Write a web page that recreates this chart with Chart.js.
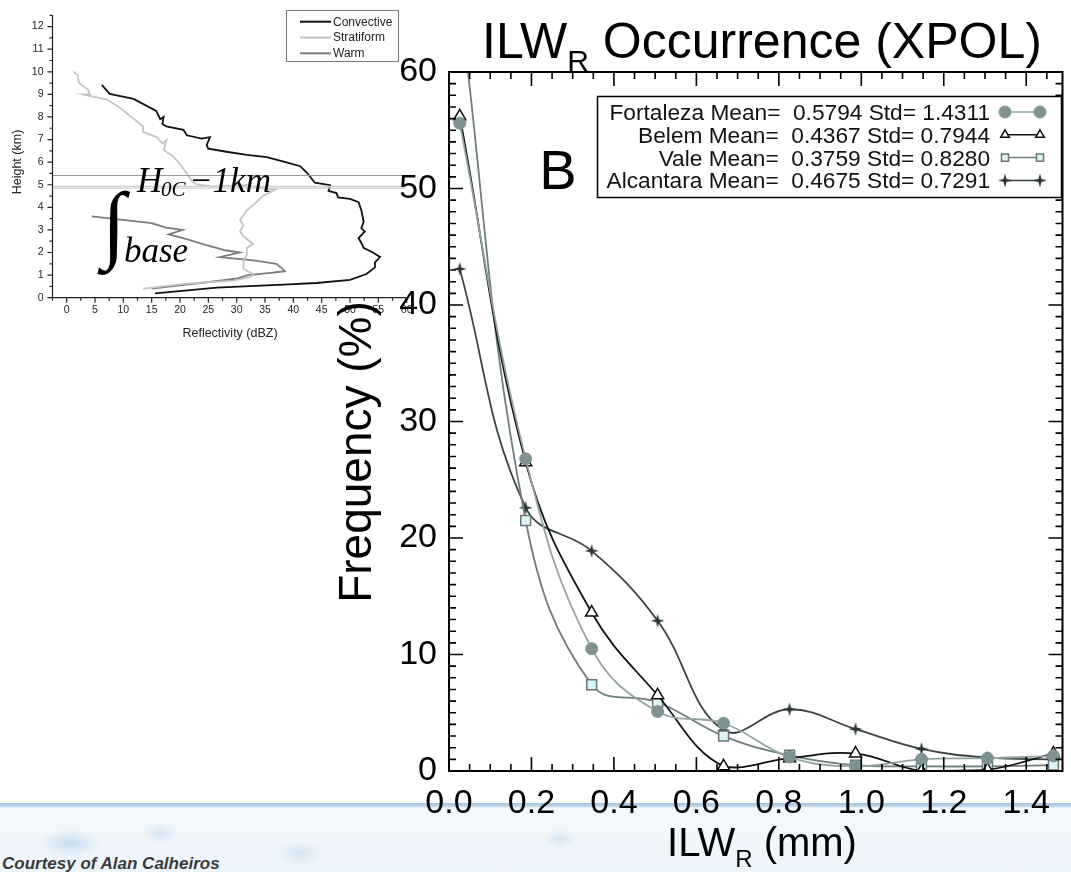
<!DOCTYPE html>
<html>
<head>
<meta charset="utf-8">
<script src="https://cdn.jsdelivr.net/npm/chart.js@4.4.1/dist/chart.umd.min.js"></script>
<style>
body { margin: 0; background: #fff; overflow: hidden; }
#page { position: relative; width: 1071px; height: 872px; background: #fff; }
#band { position: absolute; left: 0; top: 803px; width: 1071px; height: 69px;
  background:
    radial-gradient(ellipse 30px 14px at 70px 40px, rgba(150,190,225,0.45), rgba(150,190,225,0) 100%),
    radial-gradient(ellipse 18px 10px at 160px 30px, rgba(150,190,225,0.35), rgba(150,190,225,0) 100%),
    radial-gradient(ellipse 22px 12px at 300px 50px, rgba(150,190,225,0.3), rgba(150,190,225,0) 100%),
    radial-gradient(ellipse 16px 10px at 560px 36px, rgba(150,190,225,0.3), rgba(150,190,225,0) 100%),
    linear-gradient(to bottom, #9fc2e2 0px, #b9d4ec 3px, #f3f8fc 5px, #edf4fa 100%); }
#credit { position: absolute; left: 2px; top: 854px; font: italic bold 17px 'Liberation Sans', Arial, sans-serif; color: #3a3a3a; }
</style>
</head>
<body>
<div id="page">
  <div id="band"></div>
  <div id="credit">Courtesy of  Alan Calheiros</div>
  <canvas id="insetChart" width="420" height="345" style="position:absolute;left:0;top:0"></canvas>
  <canvas id="mainChart" width="1071" height="872" style="position:absolute;left:0;top:0"></canvas>
</div>
<script>
// ---- main chart data: frequency (%) per ILW_R bin ----
var ilwBins = [0.026, 0.186, 0.346, 0.506, 0.666, 0.826, 0.986, 1.146, 1.306, 1.466];
var fortalezaFreq = [55.6, 26.8, 10.5, 5.1, 4.1, 1.2, 0.4, 1.0, 1.1, 1.3];
var belemFreq = [56.2, 26.5, 13.6, 6.5, 0.4, 1.1, 1.5, 0.0, 0.1, 1.5];
var valeFreq = [66.0, 21.5, 7.4, 5.9, 3.0, 1.35, 0.5, 0.4, 0.4, 0.5];
var alcantaraFreq = [43.1, 22.6, 18.9, 12.9, 3.5, 5.3, 3.6, 1.9, 1.15, 1.0];
var siteNames = ['Fortaleza', 'Belem', 'Vale', 'Alcantara'];
var siteMeans = ['0.5794', '0.4367', '0.3759', '0.4675'];
var siteStds = ['1.4311', '0.7944', '0.8280', '0.7291'];

// ---- inset data: reflectivity profiles ----
var convDbz = [6.2, 7.6, 11.8, 15.8, 16.5, 17.1, 16.9, 17.6, 20.6, 21.2, 23.8, 25.3, 24.7, 25.0, 28.2, 31.8, 35.3, 38.8, 41.2, 42.4, 43.8, 46.5, 46.2, 47.6, 47.9, 50.0, 51.5, 52.0, 52.4, 52.0, 52.6, 51.5, 52.0, 52.4, 54.1, 55.3, 54.4, 54.4, 52.9, 50.0, 44.1, 38.2, 26.5, 15.6];
var convHeight = [9.42, 9.02, 8.8, 8.27, 7.9, 8.0, 7.69, 7.58, 7.43, 7.19, 7.04, 7.11, 6.75, 6.6, 6.46, 6.32, 6.22, 5.99, 5.82, 5.53, 5.09, 4.98, 4.73, 4.63, 4.44, 4.37, 4.23, 3.87, 3.36, 3.07, 2.93, 2.64, 2.42, 2.21, 1.99, 1.8, 1.56, 1.34, 1.05, 0.79, 0.65, 0.58, 0.45, 0.19];
var stratDbz = [1.2, 1.9, 2.2, 3.8, 4.1, 2.9, 7.1, 9.4, 11.5, 13.5, 13.5, 15.9, 16.9, 17.6, 17.1, 18.8, 20.3, 21.5, 22.1, 22.9, 25.9, 31.8, 35.3, 36.8, 34.7, 33.5, 31.8, 31.2, 30.6, 31.2, 30.6, 31.2, 32.9, 31.8, 31.8, 31.2, 31.2, 32.9, 32.4, 29.4, 21.2, 13.5];
var stratHeight = [10.0, 9.88, 9.5, 9.2, 9.0, 9.0, 8.77, 8.41, 7.98, 7.58, 7.33, 7.11, 6.83, 6.97, 6.54, 6.25, 5.82, 5.38, 5.17, 5.02, 4.92, 4.98, 4.81, 4.78, 4.52, 4.23, 3.87, 3.65, 3.43, 3.22, 2.93, 2.71, 2.38, 2.21, 1.92, 1.63, 1.27, 1.05, 0.91, 0.76, 0.62, 0.40];
var warmDbz = [4.4, 15.0, 17.5, 20.5, 18.0, 21.0, 25.0, 28.0, 30.5, 27.0, 33.0, 37.0, 38.0, 38.5, 36.0, 32.0, 30.0, 27.0, 20.0, 15.0];
var warmHeight = [3.6, 3.3, 3.1, 3.0, 2.8, 2.6, 2.3, 2.1, 2.0, 1.8, 1.65, 1.5, 1.3, 1.17, 1.1, 1.0, 0.85, 0.75, 0.55, 0.4];
var levelHeights = [5.41, 4.93, 4.85];
var levelColors = ['#9a9a9a', '#cfcfcf', '#cfcfcf'];

var FONT = "'Liberation Sans', Arial, sans-serif";

function toPoints(xs, ys) {
  return xs.map(function (x, i) { return {x: x, y: ys[i]}; });
}

// 4 point star marker for Alcantara
function makeStar(r, fill) {
  var c = document.createElement('canvas');
  c.width = c.height = 2 * r + 2;
  var g = c.getContext('2d');
  var m = r + 1;
  g.beginPath();
  for (var k = 0; k < 8; k++) {
    var a = k * Math.PI / 4 - Math.PI / 2;
    var rr = k % 2 === 0 ? r : r * 0.3;
    g.lineTo(m + rr * Math.cos(a), m + rr * Math.sin(a));
  }
  g.closePath();
  g.fillStyle = fill;
  g.fill();
  return c;
}
var starMark = makeStar(7, '#2b3434');

// ================= inset (reflectivity profiles) =================
var insetDecor = {
  id: 'insetDecor',
  afterDraw: function (chart) {
    var ctx = chart.ctx, a = chart.chartArea, x = chart.scales.x, y = chart.scales.y;
    ctx.save();
    ctx.strokeStyle = '#222';
    ctx.lineWidth = 1.2;
    ctx.beginPath();
    ctx.moveTo(a.left, a.top); ctx.lineTo(a.left, a.bottom); ctx.lineTo(a.right, a.bottom);
    for (var h = 0; h <= 12.5; h += 0.5) {
      var py = y.getPixelForValue(h);
      var len = (h % 1 === 0) ? 5 : 3;
      ctx.moveTo(a.left, py); ctx.lineTo(a.left - len, py);
    }
    for (var d = -2.5; d <= 60; d += 2.5) {
      var px = x.getPixelForValue(d);
      var l2 = (d % 5 === 0) ? 5 : 3;
      ctx.moveTo(px, a.bottom); ctx.lineTo(px, a.bottom + l2);
    }
    ctx.stroke();

    // legend
    ctx.strokeStyle = '#777';
    ctx.lineWidth = 1;
    ctx.strokeRect(286.5, 10.5, 112, 51);
    var names = ['Convective', 'Stratiform', 'Warm'];
    var cols = ['#111', '#c4c4c4', '#7c7c7c'];
    ctx.font = '12px ' + FONT;
    ctx.textBaseline = 'middle';
    for (var i = 0; i < 3; i++) {
      var ry = 21.7 + i * 15.8;
      ctx.strokeStyle = cols[i];
      ctx.lineWidth = 2;
      ctx.beginPath(); ctx.moveTo(300, ry); ctx.lineTo(331, ry); ctx.stroke();
      ctx.fillStyle = '#222';
      ctx.fillText(names[i], 333, ry + 0.5);
    }

    // axis titles
    ctx.fillStyle = '#222';
    ctx.textAlign = 'center';
    ctx.textBaseline = 'alphabetic';
    ctx.font = '12.5px ' + FONT;
    ctx.fillText('Reflectivity (dBZ)', 230, 337);
    ctx.save();
    ctx.translate(21, 162);
    ctx.rotate(-Math.PI / 2);
    ctx.fillText('Height (km)', 0, 0);
    ctx.restore();

    // integral annotation
    ctx.fillStyle = '#000';
    ctx.textAlign = 'left';
    ctx.font = 'bold 86px "Liberation Serif", "DejaVu Serif", serif';
    ctx.fillText('\u222B', 102, 252);
    ctx.font = 'italic 35px "Liberation Serif", serif';
    ctx.fillText('H', 137, 192);
    ctx.font = 'italic 21px "Liberation Serif", serif';
    ctx.fillText('0C', 161, 196);
    ctx.font = 'italic 35px "Liberation Serif", serif';
    ctx.fillText('\u22121km', 189, 192);
    ctx.fillText('base', 124, 262);
    ctx.restore();
  }
};

var insetSets = [
  {data: toPoints(convDbz, convHeight), borderColor: '#111', borderWidth: 1.8},
  {data: toPoints(stratDbz, stratHeight), borderColor: '#c4c4c4', borderWidth: 1.8},
  {data: toPoints(warmDbz, warmHeight), borderColor: '#7c7c7c', borderWidth: 1.8}
];
levelHeights.forEach(function (h, i) {
  insetSets.unshift({data: [{x: -2.5, y: h}, {x: 60, y: h}], borderColor: levelColors[i], borderWidth: 1.2});
});

new Chart(document.getElementById('insetChart').getContext('2d'), {
  type: 'scatter',
  data: {datasets: insetSets.map(function (d) {
    d.showLine = true; d.pointRadius = 0; d.tension = 0; d.fill = false; return d;
  })},
  options: {
    responsive: false, animation: false,
    layout: {padding: {left: 0, top: 8.3, right: 13.3, bottom: 0}},
    plugins: {legend: {display: false}, tooltip: {enabled: false}},
    scales: {
      x: {type: 'linear', min: -2.5, max: 60,
        afterFit: function (s) { s.height = 47.3; },
        grid: {display: false, drawTicks: false}, border: {display: false},
        ticks: {stepSize: 5, includeBounds: false, padding: 6, color: '#222', font: {family: FONT, size: 10.5}, maxRotation: 0, autoSkip: false}},
      y: {type: 'linear', min: 0, max: 12.5,
        afterFit: function (s) { s.width = 52.5; },
        grid: {display: false, drawTicks: false}, border: {display: false},
        ticks: {stepSize: 1, includeBounds: false, padding: 9, color: '#222', font: {family: FONT, size: 10.5}, autoSkip: false}}
    }
  },
  plugins: [insetDecor]
});

// ================= main chart (ILW_R occurrence) =================
var siteStyles = [
  {line: '#94a4a4', fill: '#7f9292', border: '#7f9292', style: 'circle', r: 6, bw: 1},
  {line: '#111111', fill: '#ffffff', border: '#111111', style: 'triangle', r: 7, bw: 1.5},
  {line: '#6f7d7d', fill: '#dcf4f4', border: '#667676', style: 'rect', r: 7, bw: 1.5},
  {line: '#3a4444', fill: '#2b3434', border: '#2b3434', style: starMark, r: 7, bw: 0}
];
var siteFreqs = [fortalezaFreq, belemFreq, valeFreq, alcantaraFreq];

function drawSubText(ctx, a, sub, b, cx, base, big, small, drop) {
  ctx.save();
  ctx.textAlign = 'left';
  ctx.fillStyle = '#000';
  ctx.font = big + 'px ' + FONT;
  var wa = ctx.measureText(a).width, wb = ctx.measureText(b).width;
  ctx.font = small + 'px ' + FONT;
  var ws = ctx.measureText(sub).width;
  var x0 = cx - (wa + ws + wb) / 2;
  ctx.font = big + 'px ' + FONT;
  ctx.fillText(a, x0, base);
  ctx.font = small + 'px ' + FONT;
  ctx.fillText(sub, x0 + wa, base + drop);
  ctx.font = big + 'px ' + FONT;
  ctx.fillText(b, x0 + wa + ws, base);
  ctx.restore();
}

var idlDecor = {
  id: 'idlDecor',
  afterDraw: function (chart) {
    var ctx = chart.ctx, a = chart.chartArea, x = chart.scales.x, y = chart.scales.y;
    ctx.save();
    ctx.strokeStyle = '#000';
    ctx.lineWidth = 2;
    ctx.strokeRect(a.left, a.top, a.right - a.left, a.bottom - a.top);
    ctx.lineWidth = 1.6;
    ctx.beginPath();
    for (var i = 0; i <= 40; i++) {
      var v = i * 0.05;
      if (v > x.max) break;
      var px = x.getPixelForValue(v);
      var len = i % 4 === 0 ? 14 : 7;
      ctx.moveTo(px, a.bottom); ctx.lineTo(px, a.bottom - len);
      ctx.moveTo(px, a.top); ctx.lineTo(px, a.top + len);
    }
    for (var k = 0; k <= 60; k++) {
      var py = y.getPixelForValue(k);
      var l2 = k % 10 === 0 ? 14 : 7;
      ctx.moveTo(a.left, py); ctx.lineTo(a.left + l2, py);
      ctx.moveTo(a.right, py); ctx.lineTo(a.right - l2, py);
    }
    ctx.stroke();

    // legend box
    ctx.fillStyle = '#fff';
    ctx.fillRect(598, 97, 463, 100);
    ctx.lineWidth = 1.5;
    ctx.strokeRect(597.5, 96.5, 464, 101);
    ctx.font = '22.7px ' + FONT;
    ctx.textAlign = 'right';
    ctx.textBaseline = 'alphabetic';
    for (var s = 0; s < 4; s++) {
      var by = 120 + s * 22.8;
      ctx.fillStyle = '#111';
      ctx.fillText(siteNames[s] + ' Mean=  ' + siteMeans[s] + ' Std= ' + siteStds[s], 990, by);
      var st = siteStyles[s];
      var cy = by - 8;
      ctx.strokeStyle = st.line;
      ctx.lineWidth = 1.5;
      ctx.beginPath(); ctx.moveTo(1005, cy); ctx.lineTo(1040, cy); ctx.stroke();
      ctx.fillStyle = st.fill;
      ctx.strokeStyle = st.border;
      ctx.lineWidth = st.bw;
      var opt = {pointStyle: st.style, radius: s === 0 ? 6 : 5, rotation: 0, borderWidth: st.bw};
      Chart.helpers.drawPoint(ctx, opt, 1005, cy);
      Chart.helpers.drawPoint(ctx, opt, 1040, cy);
    }

    // "B"
    ctx.fillStyle = '#000';
    ctx.textAlign = 'center';
    ctx.font = '56px ' + FONT;
    ctx.fillText('B', 558, 189);

    // title with subscript
    drawSubText(ctx, 'ILW', 'R', ' Occurrence (XPOL)', 762, 58, 50, 30, 13);
    // x title
    drawSubText(ctx, 'ILW', 'R', ' (mm)', 762, 856, 40, 24, 11);
    // y title
    ctx.save();
    ctx.translate(371, 452);
    ctx.rotate(-Math.PI / 2);
    ctx.textAlign = 'center';
    ctx.font = '46px ' + FONT;
    ctx.fillText('Frequency (%)', 0, 0);
    ctx.restore();
    ctx.restore();
  }
};

new Chart(document.getElementById('mainChart').getContext('2d'), {
  type: 'scatter',
  data: {
    datasets: siteNames.map(function (name, i) {
      var st = siteStyles[i];
      return {
        label: name,
        data: toPoints(ilwBins, siteFreqs[i]),
        showLine: true,
        tension: 0.4,
        borderColor: st.line,
        borderWidth: 1.8,
        pointStyle: st.style,
        pointRadius: st.r,
        pointBackgroundColor: st.fill,
        pointBorderColor: st.border,
        pointBorderWidth: st.bw
      };
    })
  },
  options: {
    responsive: false, animation: false,
    layout: {padding: {left: 0, top: 72, right: 2, bottom: 0}},
    plugins: {legend: {display: false}, tooltip: {enabled: false}},
    scales: {
      x: {type: 'linear', min: 0, max: 1.488,
        afterFit: function (s) { s.height = 101; },
        grid: {display: false, drawTicks: false}, border: {display: false},
        ticks: {stepSize: 0.2, includeBounds: false, padding: 12, color: '#000',
          font: {family: FONT, size: 34}, maxRotation: 0, autoSkip: false,
          callback: function (v) { return v.toFixed(1); }}},
      y: {type: 'linear', min: 0, max: 60,
        afterFit: function (s) { s.width = 449; },
        grid: {display: false, drawTicks: false}, border: {display: false},
        ticks: {stepSize: 10, padding: 12, color: '#000', font: {family: FONT, size: 34}}}
    }
  },
  plugins: [idlDecor]
});
</script>
</body>
</html>
